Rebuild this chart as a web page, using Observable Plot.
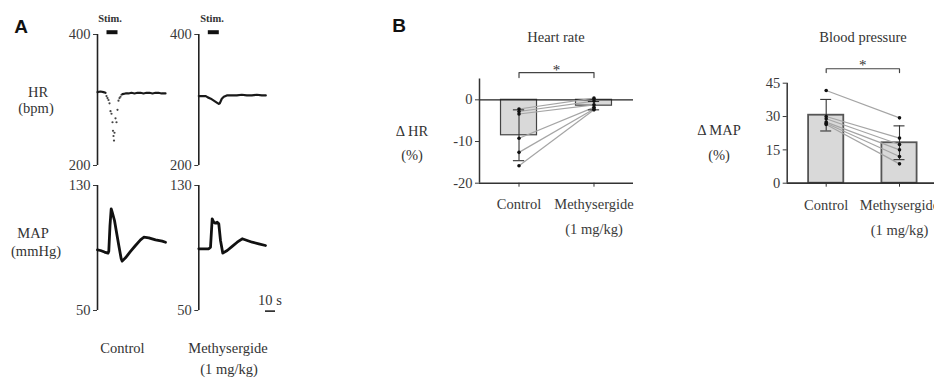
<!DOCTYPE html>
<html><head><meta charset="utf-8">
<script src="https://cdn.jsdelivr.net/npm/d3@7"></script>
<script src="https://cdn.jsdelivr.net/npm/@observablehq/plot@0.6"></script>
<style>
html,body{margin:0;padding:0;background:#fff;}
#fig{position:relative;width:934px;height:378px;overflow:hidden;font-family:'Liberation Serif','Times New Roman',serif;color:#333;}
#fig svg{position:absolute;left:0;top:0;}
.lbl{position:absolute;white-space:nowrap;font-size:14.5px;transform:translate(-50%,-50%);line-height:1;}
.lbl.l{transform:translate(0,-50%);}
.stim{font-size:10.5px;font-weight:bold;}
.panel{position:absolute;white-space:nowrap;transform:translate(-50%,-50%);line-height:1;font-family:'Liberation Sans',Arial,sans-serif;font-weight:bold;font-size:19px;color:#111;}
</style></head><body><div id="fig"></div>
<script>
// ---------------- DATA ----------------
// Panel A: stimulation window and time scale bar (seconds)
const stimWindow = [9.5, 20.5];
const scaleBar = [66.7, 76.7];
// HR traces (bpm)
const hrTicks = [200, 400];
const hrCtrlBaseT = [0, 3, 6, 8];
const hrCtrlBaseV = [312, 313, 312, 311];
const hrCtrlDropT = [9, 10, 11, 12, 13, 14, 15, 15.5, 16, 16.5, 17, 18, 19, 20, 21, 22, 23, 24];
const hrCtrlDropV = [306, 303, 300, 295, 283, 279, 266, 253, 245, 238, 250, 272, 266, 285, 299, 303, 305, 308];
const hrCtrlRecT = [25, 28, 31, 34, 37, 40, 43, 46, 49, 52, 55, 58, 61, 64, 68];
const hrCtrlRecV = [309, 310, 310, 311, 310, 311, 311, 310, 311, 311, 310, 311, 311, 310, 310];
const hrMethT = [0, 4, 7, 9, 12, 15, 18, 20, 21, 23, 25, 28, 33, 38, 43, 48, 53, 58, 63, 67];
const hrMethV = [306, 306, 306, 304, 302, 299, 296, 294, 295, 302, 305, 307, 307, 307, 308, 307, 307, 308, 307, 307];
// MAP traces (mmHg)
const mapTicks = [50, 130];
const mapCtrlT = [0, 3, 7, 10.5, 11.3, 12.5, 13.7, 14.7, 17, 19, 21.3, 23.7, 24.7, 28, 33, 38, 43, 46.3, 51.3, 58, 64.7, 68];
const mapCtrlV = [88.8, 88.4, 87.4, 86.7, 88, 104.4, 115.1, 112.9, 107.6, 100.1, 91.6, 83.1, 81.6, 83.7, 87.8, 91.6, 95.2, 96.9, 96.5, 95.2, 94.4, 93.7];
const mapMethT = [0, 1.7, 10, 11.7, 13.4, 15, 16.7, 18.4, 20, 21.7, 24, 28.4, 33.4, 38.4, 43.4, 48.4, 53.4, 60, 66.7];
const mapMethV = [89.5, 89.5, 89.5, 90.5, 108.7, 106.5, 105.9, 106.5, 105.5, 94.8, 86.7, 88.4, 91, 93.7, 95.9, 94.8, 93.7, 92.7, 91.6];

// Panel B
const categories = ["Control", "Methysergide"];
const doses = ["", "(1 mg/kg)"];
const hrTicksB = [-20, -10, 0];
const hrMeans = [-8.5, -1.4];
const hrSD = [6.1, 1.0];
const hrCtrlPts = [-2.2, -2.8, -3.4, -9.2, -12.6, -15.8];
const hrMethPts = [0.4, -0.3, -1.2, -1.8, -2.2, -2.4];
const mapTicksB = [0, 15, 30, 45];
const mapMeans = [30.6, 18.2];
const mapSD = [7.1, 7.6];
const mapCtrlPts = [41.7, 30.0, 29.0, 27.5, 27.0, 26.4];
const mapMethPts = [29.4, 20.3, 17.4, 15.0, 12.0, 8.7];

// ---------------- DRAWING ----------------
const fig = document.getElementById("fig");
const baseStyle = {background: "transparent", fontFamily: "'Liberation Serif','Times New Roman',serif",
  fontSize: "14.5px", color: "#3a3a3a", overflow: "visible", maxWidth: "none"};
function frame(l, r, t, b, W = 934, H = 378) {
  return {width: W, height: H, marginLeft: l, marginRight: W - r, marginTop: t, marginBottom: H - b};
}
const pts = (T, V) => T.map((t, i) => ({t, v: V[i]}));
const plainFmt = d => String(d);

function trace({left, top, bottom, yDomain, yTicks, marks}) {
  return Plot.plot({
    ...frame(left, left + 70, top, bottom),
    style: baseStyle,
    x: {domain: [0, 70], axis: null},
    y: {domain: yDomain, ticks: yTicks, tickFormat: plainFmt, tickSize: 4, tickPadding: 3, label: null},
    marks: [
      Plot.ruleX([0], {y1: yDomain[0], y2: yDomain[1], stroke: "#222", strokeWidth: 1.6}),
      ...marks
    ]
  });
}

const lineOpt = {x: "t", y: "v", stroke: "#1a1a1a", strokeWidth: 2.2, curve: "linear"};
const mapOpt = {x: "t", y: "v", stroke: "#111", strokeWidth: 2.8, curve: "linear", strokeLinejoin: "round"};

const plots = [
  trace({left: 97, top: 34, bottom: 165, yDomain: [200, 400], yTicks: hrTicks, marks: [
    Plot.line(pts(hrCtrlBaseT, hrCtrlBaseV), lineOpt),
    Plot.dot(pts(hrCtrlDropT, hrCtrlDropV), {x: "t", y: "v", r: 1.1, fill: "#444"}),
    Plot.line(pts(hrCtrlRecT, hrCtrlRecV), lineOpt),
    Plot.ruleY([403.5], {x1: stimWindow[0], x2: stimWindow[1], stroke: "#111", strokeWidth: 4})
  ]}),
  trace({left: 198.3, top: 34, bottom: 165, yDomain: [200, 400], yTicks: hrTicks, marks: [
    Plot.line(pts(hrMethT, hrMethV), lineOpt),
    Plot.ruleY([403.5], {x1: stimWindow[0], x2: stimWindow[1], stroke: "#111", strokeWidth: 4})
  ]}),
  trace({left: 97, top: 185, bottom: 310, yDomain: [50, 130], yTicks: mapTicks, marks: [
    Plot.line(pts(mapCtrlT, mapCtrlV), mapOpt)
  ]}),
  trace({left: 198.3, top: 185, bottom: 310, yDomain: [50, 130], yTicks: mapTicks, marks: [
    Plot.line(pts(mapMethT, mapMethV), mapOpt),
    Plot.ruleY([49.6], {x1: scaleBar[0], x2: scaleBar[1], stroke: "#222", strokeWidth: 1.6})
  ]})
];

function barPanel(o) {
  const idx = [0, 1], half = 0.24, cap = 0.075;
  const y0 = o.yDomain[0];
  const caps = idx.flatMap(i => [[i, o.means[i] - o.sds[i]], [i, o.means[i] + o.sds[i]]]);
  const k = o.ctrl.map((c, j) => j);
  return Plot.plot({
    ...frame(o.left, o.right, o.top, o.bottom, o.W),
    style: baseStyle,
    x: {domain: o.xDomain, axis: null},
    y: {domain: o.yDomain, ticks: o.yTicks, tickFormat: plainFmt, tickSize: 4, tickPadding: 3, label: null},
    marks: [
      Plot.rect(idx, {x1: i => i - half, x2: i => i + half, y1: 0, y2: i => o.means[i],
        fill: "#d9d9d9", stroke: o.barStroke, strokeWidth: o.barStrokeWidth}),
      Plot.ruleY([0], {stroke: "#222", strokeWidth: 1.3}),
      Plot.ruleY([y0], {stroke: "#333", strokeWidth: 1.5}),
      Plot.ruleX([o.xDomain[0]], {y1: y0, y2: o.yDomain[1], stroke: "#333", strokeWidth: 1.5}),
      Plot.link(k, {x1: () => 0, x2: () => 1, y1: j => o.ctrl[j], y2: j => o.meth[j], stroke: "#a5a5a5", strokeWidth: 1.2}),
      Plot.ruleX(idx, {x: i => i, y1: i => o.means[i] - o.sds[i], y2: i => o.means[i] + o.sds[i], stroke: "#333", strokeWidth: 1.1}),
      Plot.ruleY(caps, {x1: d => d[0] - cap, x2: d => d[0] + cap, y: d => d[1], stroke: "#333", strokeWidth: 1.1}),
      Plot.dot(k, {x: () => 0, y: j => o.ctrl[j], r: 1.8, fill: "#111"}),
      Plot.dot(k, {x: () => 1, y: j => o.meth[j], r: 1.8, fill: "#111"}),
      Plot.ruleX(idx, {x: i => i, y1: y0, y2: y0 - o.tickLen, stroke: "#333"}),
      Plot.text(idx, {x: i => i, y: y0, text: i => categories[i], dy: o.labelDy, fontSize: 14.5, textAnchor: "middle", fill: "#3a3a3a"}),
      Plot.text([1], {x: i => i, y: y0, text: i => doses[i], dy: o.labelDy + 25, fontSize: 14.5, fill: "#3a3a3a"}),
      Plot.line(o.bracket, {x: d => d[0], y: d => d[1], stroke: "#444", strokeWidth: 1.2}),
      Plot.text(["*"], {x: () => 0.5, y: () => o.starY, text: d => d, fontSize: 15, fill: "#333"})
    ]
  });
}

plots.push(barPanel({left: 479, right: 633, top: 78.5, bottom: 182.7, W: 934,
  xDomain: [-0.527, 1.527], yDomain: [-20, 5], yTicks: hrTicksB,
  means: hrMeans, sds: hrSD, ctrl: hrCtrlPts, meth: hrMethPts,
  barStroke: "#444", barStrokeWidth: 1.2, tickLen: 0.96, labelDy: 21.3,
  bracket: [[0, 5.35], [0, 6.55], [1, 6.55], [1, 5.35]], starY: 7.1}));
plots.push(barPanel({left: 786.7, right: 938, top: 82.7, bottom: 182.7, W: 940,
  xDomain: [-0.532, 1.532], yDomain: [0, 45], yTicks: mapTicksB,
  means: mapMeans, sds: mapSD, ctrl: mapCtrlPts, meth: mapMethPts,
  barStroke: "#555", barStrokeWidth: 1.8, tickLen: 1.8, labelDy: 22.3,
  bracket: [[0, 49.8], [0, 51.5], [1, 51.5], [1, 49.8]], starY: 53.1}));

plots.forEach(p => fig.appendChild(p));

// ---------------- TEXT LABELS ----------------
const labels = [
  ["panel", "A", 21, 26], ["panel", "B", 399, 25],
  ["lbl stim", "Stim.", 110, 19], ["lbl stim", "Stim.", 212, 19],
  ["lbl", "HR", 38, 92], ["lbl", "(bpm)", 36, 108],
  ["lbl", "MAP", 33, 233], ["lbl", "(mmHg)", 36, 251],
  ["lbl", categories[0], 122.5, 348], ["lbl", categories[1], 228, 348], ["lbl", doses[1], 229, 369],
  ["lbl l", "10 s", 258, 300],
  ["lbl", "Heart rate", 556, 37], ["lbl", "Blood pressure", 863, 37],
  ["lbl", "\u0394 HR", 412, 131], ["lbl", "(%)", 412, 155],
  ["lbl", "\u0394 MAP", 719, 130], ["lbl", "(%)", 719, 155]
];
for (const [cls, txt, x, y] of labels) {
  const d = document.createElement("div");
  d.className = cls;
  d.textContent = txt;
  d.style.left = x + "px";
  d.style.top = y + "px";
  fig.appendChild(d);
}
</script></body></html>
